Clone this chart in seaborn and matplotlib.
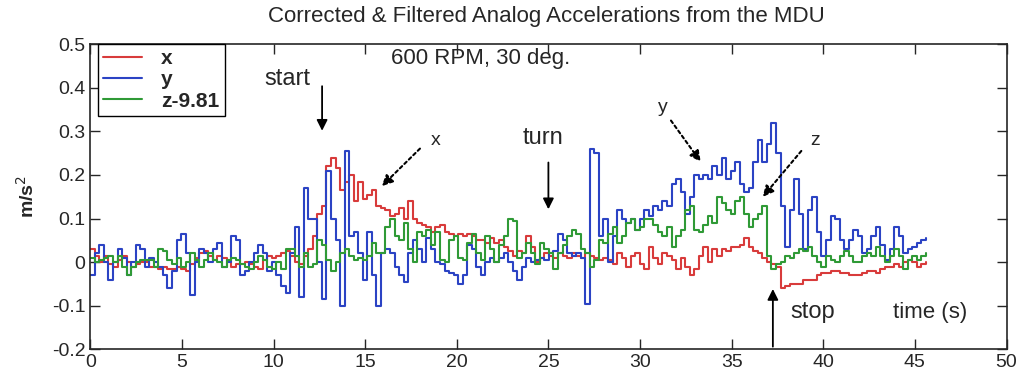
import numpy as np
import pandas as pd
import matplotlib
matplotlib.use("Agg")
import matplotlib.pyplot as plt
import seaborn as sns

# accelerations, one sample every ~0.25 s
x_acc = [0.03, 0.015, 0.0, 0.015, -0.005, -0.01, 0.005, 0.015, 0.0, -0.01, -0.005, 0.0, 0.0, -0.01, -0.01, -0.015,
         -0.01, -0.015, -0.015, -0.01, -0.015, -0.02, -0.005, 0.01, 0.02, 0.025, 0.015, 0.005, 0.015, 0.01, 0.0, -0.01,
         -0.005, -0.005, 0.0, -0.005, -0.01, -0.015, 0.005, 0.015, 0.01, 0.015, 0.02, 0.025, 0.015, 0.0, -0.005, 0.015,
         0.03, 0.06, 0.11, 0.13, 0.22, 0.24, 0.215, 0.165, 0.185, 0.2, 0.14, 0.185, 0.145, 0.155, 0.165, 0.13,
         0.125, 0.12, 0.105, 0.11, 0.125, 0.1, 0.14, 0.1, 0.09, 0.085, 0.08, 0.07, 0.08, 0.085, 0.07, 0.065,
         0.06, 0.065, 0.06, 0.065, 0.06, 0.05, 0.05, 0.045, 0.055, 0.045, 0.05, 0.035, 0.025, 0.015, 0.025, 0.02,
         0.06, 0.035, 0.0, 0.01, 0.02, 0.015, 0.01, 0.02, 0.015, 0.01, 0.02, 0.015, 0.01, 0.02, 0.015, 0.01,
         0.005, 0.01, 0.005, -0.005, 0.02, 0.01, -0.01, 0.015, 0.02, -0.005, -0.015, 0.035, 0.01, -0.005, 0.02, 0.015,
         0.005, -0.015, 0.01, -0.01, -0.03, -0.015, 0.015, 0.035, 0.0, 0.03, 0.015, 0.03, 0.025, 0.035, 0.035, 0.04,
         0.055, 0.035, 0.025, 0.02, 0.01, 0.0, -0.005, -0.01, -0.06, -0.055, -0.05, -0.05, -0.05, -0.04, -0.04, -0.04,
         -0.03, -0.025, -0.025, -0.02, -0.02, -0.025, -0.025, -0.03, -0.03, -0.03, -0.025, -0.02, -0.02, -0.025, -0.015, -0.01,
         -0.01, -0.005, -0.01, 0.0, 0.005, 0.0, -0.01, -0.005, 0.0]

y_acc = [-0.03, 0.02, 0.04, 0.0, -0.04, 0.0, 0.03, 0.01, -0.03, 0.0, 0.04, 0.03, -0.01, 0.01, 0.0, -0.01,
         -0.03, -0.06, -0.02, 0.05, 0.065, 0.02, -0.075, 0.0, 0.03, 0.02, 0.0, 0.03, 0.045, -0.01, 0.0, 0.06,
         0.05, -0.03, -0.02, 0.0, 0.02, 0.04, 0.02, -0.02, 0.0, -0.03, -0.055, -0.07, 0.02, 0.08, -0.08, 0.17,
         0.1, 0.1, 0.0, -0.085, 0.21, 0.1, 0.05, -0.1, 0.255, 0.06, 0.07, 0.02, -0.04, 0.07, -0.03, -0.1,
         0.02, 0.03, 0.02, -0.01, -0.03, -0.045, 0.02, 0.05, 0.03, 0.0, 0.055, 0.03, 0.0, -0.005, -0.02, -0.025,
         -0.03, -0.05, -0.03, 0.04, 0.03, -0.01, -0.03, 0.0, 0.01, 0.0, 0.01, 0.02, 0.0, -0.02, -0.04, -0.01,
         0.01, 0.0, 0.005, 0.01, 0.005, 0.02, 0.025, 0.065, 0.05, 0.02, 0.015, 0.02, 0.01, -0.095, 0.26, 0.25,
         0.06, 0.1, 0.0, 0.06, 0.12, 0.1, 0.09, 0.1, 0.075, 0.1, 0.12, 0.105, 0.13, 0.12, 0.14, 0.13,
         0.18, 0.19, 0.16, 0.11, 0.15, 0.2, 0.19, 0.2, 0.19, 0.22, 0.2, 0.24, 0.19, 0.21, 0.23, 0.18,
         0.16, 0.17, 0.23, 0.28, 0.23, 0.27, 0.32, 0.25, 0.13, 0.035, 0.12, 0.19, 0.11, 0.03, 0.12, 0.15,
         0.07, 0.015, 0.05, 0.105, 0.1, 0.05, 0.03, 0.05, 0.075, 0.06, 0.02, 0.03, 0.06, 0.08, 0.04, 0.005,
         0.03, 0.08, 0.06, 0.02, 0.03, 0.035, 0.045, 0.05, 0.055]

z_acc = [0.01, 0.0, 0.005, 0.01, 0.015, 0.0, 0.015, -0.01, -0.03, -0.01, 0.0, 0.005, 0.005, 0.005, -0.01, 0.03,
         0.025, 0.005, -0.005, 0.01, -0.01, 0.0, 0.02, 0.005, -0.01, 0.005, 0.02, 0.005, 0.0, -0.01, 0.005, 0.01,
         0.005, -0.005, -0.01, -0.015, 0.0, 0.015, 0.005, -0.01, -0.015, 0.0, -0.015, 0.03, 0.03, 0.015, -0.01, 0.02,
         -0.01, -0.005, 0.05, 0.04, 0.005, -0.02, 0.0, 0.02, 0.03, 0.015, 0.005, 0.01, 0.005, 0.015, 0.045, 0.02,
         0.02, 0.08, 0.1, 0.06, 0.05, 0.09, 0.03, 0.0, 0.07, 0.06, 0.075, 0.04, 0.07, 0.005, 0.0, 0.05,
         0.06, 0.01, 0.005, 0.045, 0.065, 0.02, 0.005, 0.06, 0.03, 0.0, 0.04, 0.06, 0.1, 0.095, 0.01, 0.02,
         0.045, 0.02, -0.005, 0.045, 0.03, 0.02, -0.015, 0.02, 0.04, 0.06, 0.075, 0.065, 0.03, 0.02, -0.01, 0.005,
         0.05, 0.045, 0.065, 0.08, 0.045, 0.06, 0.09, 0.1, 0.075, 0.08, 0.1, 0.1, 0.085, 0.07, 0.06, 0.08,
         0.035, 0.06, 0.075, 0.12, 0.13, 0.075, 0.07, 0.085, 0.105, 0.09, 0.15, 0.135, 0.12, 0.11, 0.14, 0.15,
         0.11, 0.08, 0.1, 0.11, 0.13, 0.015, -0.015, -0.005, 0.0, 0.015, 0.01, 0.02, 0.03, 0.025, 0.035, 0.015,
         0.0, -0.01, 0.015, 0.005, 0.0, 0.015, 0.025, 0.015, 0.0, 0.0, 0.015, 0.02, 0.015, 0.035, 0.015, 0.0,
         0.015, 0.03, 0.015, -0.015, 0.005, 0.015, 0.005, 0.015, 0.02]

series_names = ["x", "y", "z-9.81"]
series_colors = ["#d83b3b", "#2b43c4", "#2f9a36"]

time = np.linspace(0, 45.6, len(x_acc))

df = pd.concat([
    pd.DataFrame({"time": time, "acc": vals, "axis": name})
    for name, vals in zip(series_names, [x_acc, y_acc, z_acc])
])

sns.set_style("ticks")
plt.rcParams["font.family"] = ["Liberation Sans", "DejaVu Sans"]

fig = plt.figure(figsize=(10.26, 3.84), dpi=100)
ax = fig.add_axes([0.088, 0.09, 0.893, 0.795])

sns.lineplot(data=df, x="time", y="acc", hue="axis", palette=dict(zip(series_names, series_colors)),
             drawstyle="steps-post", linewidth=1.5, ax=ax, estimator=None, sort=False)

ax.set_xlim(0, 50)
ax.set_ylim(-0.2, 0.5)
ax.set_xticks(range(0, 51, 5))
ax.set_yticks([-0.2, -0.1, 0, 0.1, 0.2, 0.3, 0.4, 0.5])
ax.set_yticklabels(["-0.2", "-0.1", "0", "0.1", "0.2", "0.3", "0.4", "0.5"])
ax.tick_params(direction="in", length=7, width=1, top=True, right=True, labelsize=14)
for s in ax.spines.values():
    s.set_linewidth(1.2)
ax.set_xlabel("")
ax.set_ylabel("m/s$^2$", fontsize=14, fontweight="bold", labelpad=10)

handles, labels = ax.get_legend_handles_labels()
ax.legend(handles, series_names, loc="upper left", fancybox=False, edgecolor="black", framealpha=1,
          handlelength=1.9, handletextpad=0.9, borderaxespad=0.0, labelspacing=0.1,
          borderpad=0.25, bbox_to_anchor=(0.008, 1.0),
          prop={"weight": "bold", "size": 15})

fig.suptitle("Corrected & Filtered Analog Accelerations from the MDU", x=0.533, y=0.985, fontsize=16)
ax.text(21.3, 0.468, "600 RPM, 30 deg.", ha="center", va="center", fontsize=16)

solid = dict(arrowstyle="-|>", color="black", lw=1.3, mutation_scale=16)
dotted = dict(arrowstyle="-|>", color="black", lw=1.5, ls=(0, (1.5, 1.5)), mutation_scale=16)

ax.text(9.5, 0.42, "start", fontsize=17, va="center")
ax.annotate("", xy=(12.65, 0.295), xytext=(12.65, 0.41), arrowprops=solid)
ax.text(18.6, 0.28, "x", fontsize=14, va="center")
ax.annotate("", xy=(15.8, 0.17), xytext=(18.1, 0.265), arrowprops=dotted)
ax.text(23.6, 0.285, "turn", fontsize=17, va="center")
ax.annotate("", xy=(25.0, 0.115), xytext=(25.0, 0.235), arrowprops=solid)
ax.text(31.0, 0.355, "y", fontsize=14, va="center")
ax.annotate("", xy=(33.4, 0.225), xytext=(31.6, 0.33), arrowprops=dotted)
ax.text(39.3, 0.28, "z", fontsize=14, va="center")
ax.annotate("", xy=(36.6, 0.145), xytext=(38.9, 0.26), arrowprops=dotted)
ax.text(38.2, -0.115, "stop", fontsize=17, va="center")
ax.annotate("", xy=(37.25, -0.055), xytext=(37.25, -0.2), arrowprops=solid)
ax.text(43.8, -0.115, "time (s)", fontsize=16, va="center")

fig.savefig("out.png", dpi=100)
